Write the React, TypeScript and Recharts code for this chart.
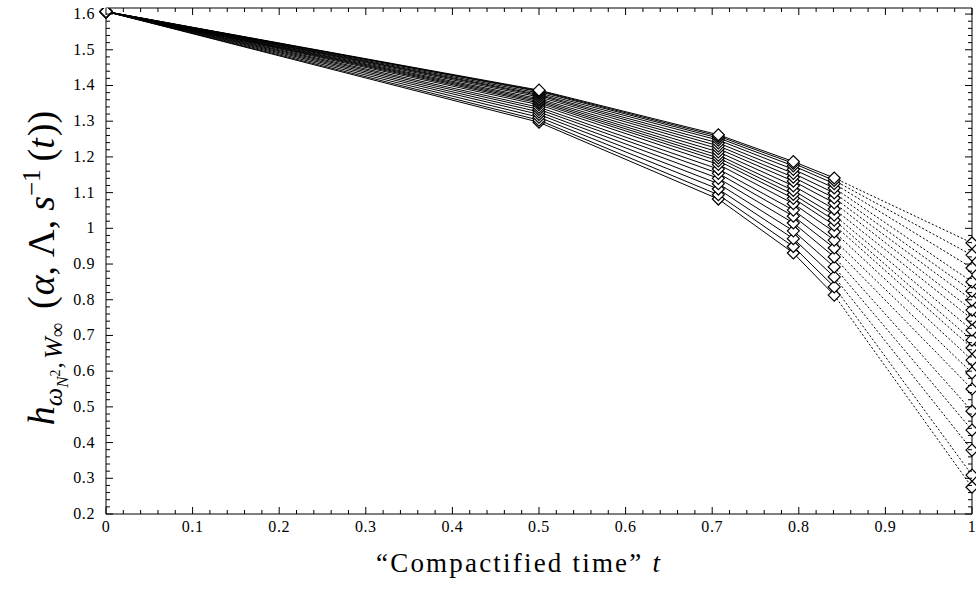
import { LineChart, Line, XAxis, YAxis } from "recharts"

// compactified times t = 2^(-1/n), n = 0, 1, 2, 3, 4, infinity
const tValues = [0, 0.5, 0.7071, 0.7937, 0.8409, 1]

// h values, one entry per curve (top curve first)
const hStart = 1.607
const hAtHalf = [1.387, 1.385, 1.383, 1.379, 1.375, 1.372, 1.368, 1.363, 1.359, 1.355, 1.351, 1.346, 1.339, 1.333, 1.326, 1.319, 1.311, 1.303, 1.297]
const hAt707 = [1.262, 1.258, 1.253, 1.247, 1.239, 1.231, 1.223, 1.214, 1.205, 1.197, 1.189, 1.179, 1.166, 1.154, 1.14, 1.125, 1.11, 1.094, 1.082]
const hAt794 = [1.187, 1.182, 1.175, 1.165, 1.154, 1.143, 1.132, 1.119, 1.106, 1.095, 1.084, 1.069, 1.051, 1.034, 1.015, 0.993, 0.971, 0.949, 0.931]
const hAt841 = [1.141, 1.134, 1.125, 1.113, 1.099, 1.085, 1.071, 1.054, 1.037, 1.023, 1.009, 0.99, 0.967, 0.945, 0.92, 0.892, 0.864, 0.836, 0.813]
const hAtOne = [0.959, 0.925, 0.889, 0.85, 0.824, 0.799, 0.771, 0.746, 0.715, 0.687, 0.665, 0.631, 0.595, 0.55, 0.488, 0.435, 0.379, 0.309, 0.275]

const xTicks = Array.from({ length: 51 }, (_, i) => Math.round(i * 2) / 100)
const yTicks = Array.from({ length: 71 }, (_, i) => Math.round(20 + i * 2) / 100)

const curveCount = hAtHalf.length
const solidCols = [hAtHalf, hAt707, hAt794, hAt841]

const data = tValues.map((t, i) => {
  const row: Record<string, number> = { t }
  for (let k = 0; k < curveCount; k++) {
    if (i === 0) row[`s${k}`] = hStart
    else if (i <= 4) row[`s${k}`] = solidCols[i - 1][k]
    if (i === 4) row[`d${k}`] = hAt841[k]
    if (i === 5) row[`d${k}`] = hAtOne[k]
  }
  return row
})

const serif = "'Liberation Serif', 'DejaVu Serif', serif"
const isMajor = (v: number) => Math.abs(v * 10 - Math.round(v * 10)) < 1e-6
const fmt = (v: number) => String(Math.round(v * 10) / 10)

const BottomTick = ({ x, y, payload }: any) => {
  const major = isMajor(payload.value)
  return (
    <g>
      <line x1={x} x2={x} y1={y} y2={y - (major ? 7 : 4)} stroke="#000" />
      {major && (
        <text x={x} y={y + 18} textAnchor="middle" fontFamily={serif} fontSize={16} letterSpacing={0.6} fill="#000">
          {fmt(payload.value)}
        </text>
      )}
    </g>
  )
}

const TopTick = ({ x, y, payload }: any) => {
  const major = isMajor(payload.value)
  return <line x1={x} x2={x} y1={y} y2={y + (major ? 7 : 4)} stroke="#000" />
}

const LeftTick = ({ x, y, payload }: any) => {
  const major = isMajor(payload.value)
  return (
    <g>
      <line x1={x} x2={x + (major ? 7 : 4)} y1={y} y2={y} stroke="#000" />
      {major && (
        <text x={x - 11} y={y + 5} textAnchor="end" fontFamily={serif} fontSize={16} letterSpacing={0.6} fill="#000">
          {fmt(payload.value)}
        </text>
      )}
    </g>
  )
}

const RightTick = ({ x, y, payload }: any) => {
  const major = isMajor(payload.value)
  return <line x1={x} x2={x - (major ? 7 : 4)} y1={y} y2={y} stroke="#000" />
}

const diamond = (cx: number, cy: number, key: string) => (
  <path
    key={key}
    d={`M${cx - 6},${cy}L${cx},${cy - 6}L${cx + 6},${cy}L${cx},${cy + 6}Z`}
    fill="#fff"
    stroke="#000"
    strokeWidth={1.2}
  />
)

const solidDot = (props: any) => {
  const { cx, cy, index, dataKey } = props
  if (cx == null || cy == null) return <g key={`${dataKey}-${index}`} />
  return diamond(cx, cy, `${dataKey}-${index}`)
}

const dottedDot = (props: any) => {
  const { cx, cy, index, dataKey } = props
  if (cx == null || cy == null || index !== 5) return <g key={`${dataKey}-${index}`} />
  return diamond(cx, cy, `${dataKey}-${index}`)
}

const order = Array.from({ length: curveCount }, (_, i) => curveCount - 1 - i)

export default function App() {
  return (
    <div style={{ position: "absolute", left: 0, top: 0, width: 976, height: 591, background: "#fff" }}>
      <LineChart width={976} height={591} data={data} margin={{ top: 7, right: 3, left: 0, bottom: 0 }}>
        <XAxis
          dataKey="t"
          type="number"
          domain={[0, 1]}
          ticks={xTicks}
          interval={0}
          tickSize={0}
          tickMargin={0}
          tickLine={false}
          tick={<BottomTick />}
          axisLine={{ stroke: "#000" }}
          height={77}
        />
        <XAxis
          xAxisId="top"
          orientation="top"
          dataKey="t"
          type="number"
          domain={[0, 1]}
          ticks={xTicks}
          interval={0}
          tickSize={0}
          tickMargin={0}
          tickLine={false}
          tick={<TopTick />}
          axisLine={{ stroke: "#000" }}
          height={1}
        />
        <YAxis
          type="number"
          domain={[0.2, 1.617]}
          ticks={yTicks}
          interval={0}
          tickSize={0}
          tickMargin={0}
          tickLine={false}
          tick={<LeftTick />}
          axisLine={{ stroke: "#000" }}
          width={106}
          allowDataOverflow
        />
        <YAxis
          yAxisId="right"
          orientation="right"
          type="number"
          domain={[0.2, 1.617]}
          ticks={yTicks}
          interval={0}
          tickSize={0}
          tickMargin={0}
          tickLine={false}
          tick={<RightTick />}
          axisLine={{ stroke: "#000" }}
          width={1}
          allowDataOverflow
        />
        {/* invisible series so the mirrored frame axes are drawn */}
        <Line
          xAxisId="top"
          yAxisId="right"
          dataKey="s0"
          stroke="none"
          dot={false}
          activeDot={false}
          isAnimationActive={false}
        />
        {order.map((k) => (
          <Line
            key={`d${k}`}
            dataKey={`d${k}`}
            stroke="#000"
            strokeWidth={1}
            strokeDasharray="2 2"
            dot={dottedDot}
            activeDot={false}
            isAnimationActive={false}
          />
        ))}
        {order.map((k) => (
          <Line
            key={`s${k}`}
            dataKey={`s${k}`}
            stroke="#000"
            strokeWidth={1}
            dot={solidDot}
            activeDot={false}
            isAnimationActive={false}
          />
        ))}
      </LineChart>
      <svg
        width={976}
        height={591}
        style={{ position: "absolute", left: 0, top: 0, pointerEvents: "none" }}
      >
        <text x={376} y={572} fontFamily={serif} fontSize={27} letterSpacing={2.2} fill="#000">
          “Compactified time” <tspan fontStyle="italic">t</tspan>
        </text>
        <text
          transform="rotate(-90)"
          x={-268}
          y={54}
          textAnchor="middle"
          fontFamily={serif}
          fontSize={38}
          fill="#000"
        >
          <tspan fontStyle="italic">h</tspan>
          <tspan fontStyle="italic" fontSize={26} dy={8}>ω</tspan>
          <tspan fontStyle="italic" fontSize={17} dy={6}>N</tspan>
          <tspan fontSize={14} dy={-8}>2</tspan>
          <tspan fontSize={26} dy={2} dx={1}>,</tspan>
          <tspan fontStyle="italic" fontSize={26} dx={3}>W</tspan>
          <tspan fontSize={20} dy={2}>∞</tspan>
          <tspan dy={-10} dx={14}>(</tspan>
          <tspan fontStyle="italic" dx={1}>α</tspan>
          <tspan>,</tspan>
          <tspan dx={9}>Λ,</tspan>
          <tspan fontStyle="italic" dx={9}>s</tspan>
          <tspan fontSize={25} dy={-14}>−1</tspan>
          <tspan dy={14} dx={8}>(</tspan>
          <tspan fontStyle="italic">t</tspan>
          <tspan dx={2}>))</tspan>
        </text>
      </svg>
    </div>
  )
}
